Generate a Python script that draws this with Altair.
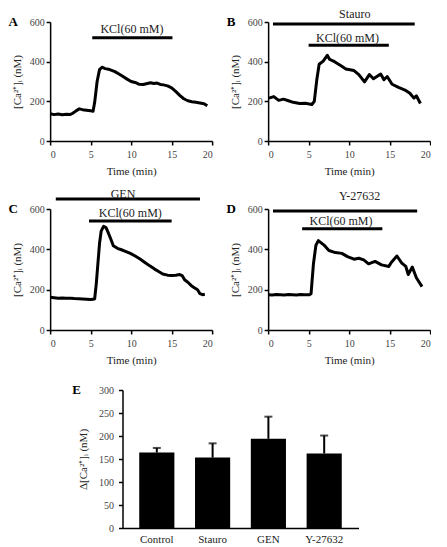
import altair as alt
import pandas as pd

FONT = "Liberation Serif"

# ---------------- Panel A ----------------
a_t = [0, 0.5, 1, 1.5, 2, 2.5, 2.8, 3.2, 3.6, 4, 4.5, 5, 5.3, 5.5, 5.8, 6.1, 6.4, 6.8, 7.2, 7.6,
       8, 8.5, 9, 9.5, 10, 10.5, 11, 11.5, 12, 12.4, 12.8, 13.2, 13.6, 14, 14.5, 15, 15.5, 16,
       16.5, 17, 17.5, 18, 18.5, 19, 19.4]
a_v = [137, 133, 136, 132, 135, 134, 140, 152, 162, 158, 155, 152, 150, 195, 300, 360, 372, 365,
       362, 356, 350, 338, 325, 312, 300, 295, 286, 285, 290, 294, 290, 292, 285, 283, 278, 268,
       250, 230, 213, 203, 198, 195, 192, 188, 178]

# ---------------- Panel B ----------------
b_t = [0.1, 0.7, 1.3, 1.9, 2.5, 3.1, 3.9, 4.6, 5.4, 5.7, 6.0, 6.3, 6.8, 7.3, 7.6, 8.2, 9.0, 9.6,
       10.6, 11.2, 11.9, 12.5, 13.0, 13.9, 14.3, 14.7, 15.3, 16.1, 16.9, 17.5, 18.0, 18.3, 18.8]
b_v = [216, 224, 205, 211, 203, 195, 189, 190, 184, 200, 306, 387, 403, 432, 411, 400, 379, 363,
       355, 335, 298, 335, 314, 338, 309, 325, 286, 270, 257, 241, 216, 228, 189]

# ---------------- Panel C ----------------
c_t = [0, 0.5, 1, 1.5, 2, 2.5, 3, 3.5, 4, 4.5, 5, 5.3, 5.5, 5.7, 5.9, 6.1, 6.3, 6.6, 6.9, 7.2,
       7.5, 7.8, 8.3, 8.8, 9.3, 9.9, 10.5, 11.1, 11.7, 12.3, 12.9, 13.4, 13.9, 14.5, 15, 15.5,
       16, 16.3, 16.6, 17, 17.4, 17.8, 18.2, 18.5, 18.8, 19.1]
c_v = [162, 160, 158, 159, 157, 158, 156, 155, 154, 153, 151, 152, 155, 230, 330, 430, 490, 514,
       508, 480, 450, 418, 405, 398, 390, 380, 367, 352, 335, 318, 302, 290, 278, 272, 270, 272,
       275, 270, 249, 237, 221, 210, 200, 180, 175, 177]

# ---------------- Panel D ----------------
d_t = [0, 0.5, 1, 1.5, 2, 2.5, 3, 3.5, 4, 4.5, 5.1, 5.3, 5.6, 5.9, 6.2, 6.9, 7.5, 8.3, 9.1, 9.8,
       10.6, 11.2, 11.8, 12.4, 13.2, 14.0, 14.9, 15.2, 15.9, 16.5, 17.0, 17.3, 17.8, 18.3, 19.0]
d_v = [175, 174, 176, 175, 174, 176, 175, 174, 176, 175, 175, 180, 330, 420, 443, 421, 394, 384,
       380, 364, 351, 356, 348, 328, 340, 323, 315, 335, 367, 332, 315, 275, 312, 259, 215]

# ---------------- Treatment bars ----------------
bar_panel = ["A", "B", "B", "C", "C", "D", "D"]
bar_label = ["KCl(60 mM)", "Stauro", "KCl(60 mM)", "GEN", "KCl(60 mM)", "Y-27632", "KCl(60 mM)"]
bar_start = [5.2, 0.6, 5.0, 0.7, 4.8, 0.6, 4.2]
bar_end = [15.1, 18.1, 14.9, 18.5, 15.0, 18.4, 14.1]
bar_level = [520, 590, 483, 649, 541, 590, 502]
label_x = [10.1, 10.7, 9.8, 9.0, 9.9, 11.3, 9.0]
label_y = [563, 640, 520, 676, 579, 665, 541]

# ---------------- Panel E ----------------
groups = ["Control", "Stauro", "GEN", "Y-27632"]
means = [164, 153, 194, 162]
upper = [174, 184, 242, 201]

bars_df = pd.DataFrame({"panel": bar_panel, "label": bar_label, "x1": bar_start,
                        "x2": bar_end, "y": bar_level, "tx": label_x, "ty": label_y})

W = 162
xs = alt.Scale(domain=[0, 20], nice=False)
ys = alt.Scale(domain=[0, 600], nice=False)
AX = dict(labelFont=FONT, titleFont=FONT, titleFontWeight="normal", labelFontSize=10,
          titleFontSize=11, labelColor="#444", titleColor="#222")
xa = alt.Axis(values=[0, 5, 10, 15, 20], title="Time (min)", labelPadding=4, titlePadding=6, **AX)
ya = alt.Axis(values=[0, 200, 400, 600], title="[Ca²⁺]ᵢ (nM)", titlePadding=7, **AX)


def panel(letter, t, v, h):
    df = pd.DataFrame({"t": t, "v": v})
    bd = bars_df[bars_df.panel == letter]
    line = alt.Chart(df).mark_line(color="black", strokeWidth=3, strokeJoin="round").encode(
        x=alt.X("t:Q", scale=xs, axis=xa), y=alt.Y("v:Q", scale=ys, axis=ya))
    rules = alt.Chart(bd).mark_rule(color="black", strokeWidth=3).encode(
        x=alt.X("x1:Q", scale=xs, axis=xa), x2="x2:Q", y=alt.Y("y:Q", scale=ys, axis=ya))
    texts = alt.Chart(bd).mark_text(font=FONT, fontSize=12, color="#222", baseline="middle",
                                    clip=False).encode(
        x=alt.X("tx:Q", scale=xs, axis=xa), y=alt.Y("ty:Q", scale=ys, axis=ya), text="label:N")
    lab = alt.Chart(pd.DataFrame({"l": [letter]})).mark_text(
        font=FONT, fontSize=13, fontWeight="bold", color="black", baseline="middle").encode(
        x=alt.value(-37), y=alt.value(0), text="l:N")
    return alt.layer(line, rules, texts, lab).properties(width=W, height=h)


pA = panel("A", a_t, a_v, 119)
pB = panel("B", b_t, b_v, 119)
pC = panel("C", c_t, c_v, 121)
pD = panel("D", d_t, d_v, 121)

edf = pd.DataFrame({"g": groups, "m": means, "u": upper})
ex = alt.X("g:N", sort=groups, scale=alt.Scale(paddingInner=0.37, paddingOuter=0.3),
           axis=alt.Axis(title=None, ticks=False, labelAngle=0, labelPadding=5,
                         labelFont=FONT, labelFontSize=11, labelColor="#222"))
ey_axis = alt.Axis(values=[0, 50, 100, 150, 200, 250, 300], title="Δ[Ca²⁺]ᵢ (nM)",
                   labelPadding=5, titlePadding=10, **AX)
ey_scale = alt.Scale(domain=[0, 300], nice=False)
ebars = alt.Chart(edf).mark_bar(color="black").encode(
    x=ex, y=alt.Y("m:Q", scale=ey_scale, axis=ey_axis))
eerr = alt.Chart(edf).mark_rule(color="black", strokeWidth=2).encode(
    x=ex, y=alt.Y("m:Q", scale=ey_scale, axis=ey_axis), y2="u:Q")
ecap = alt.Chart(edf).mark_tick(color="black", thickness=2, size=8).encode(
    x=ex, y=alt.Y("u:Q", scale=ey_scale, axis=ey_axis))
elab = alt.Chart(pd.DataFrame({"l": ["E"]})).mark_text(
    font=FONT, fontSize=13, fontWeight="bold", color="black", baseline="middle").encode(
    x=alt.value(-46), y=alt.value(0), text="l:N")
pE = alt.layer(ebars, eerr, ecap, elab).properties(width=236, height=138)

row1 = alt.hconcat(pA, pB, spacing=13)
row2 = alt.hconcat(pC, pD, spacing=13)
top = alt.vconcat(row1, row2, spacing=11)

chart = alt.vconcat(top, pE, spacing=19, center=True).properties(
    padding=0
).configure_view(stroke=None).configure_axis(
    grid=False, domainColor="black", tickColor="black", domainWidth=1.5, tickWidth=1.5,
    tickSize=4
)

chart.save("out.html", embed_options={"renderer": "svg", "actions": False})
